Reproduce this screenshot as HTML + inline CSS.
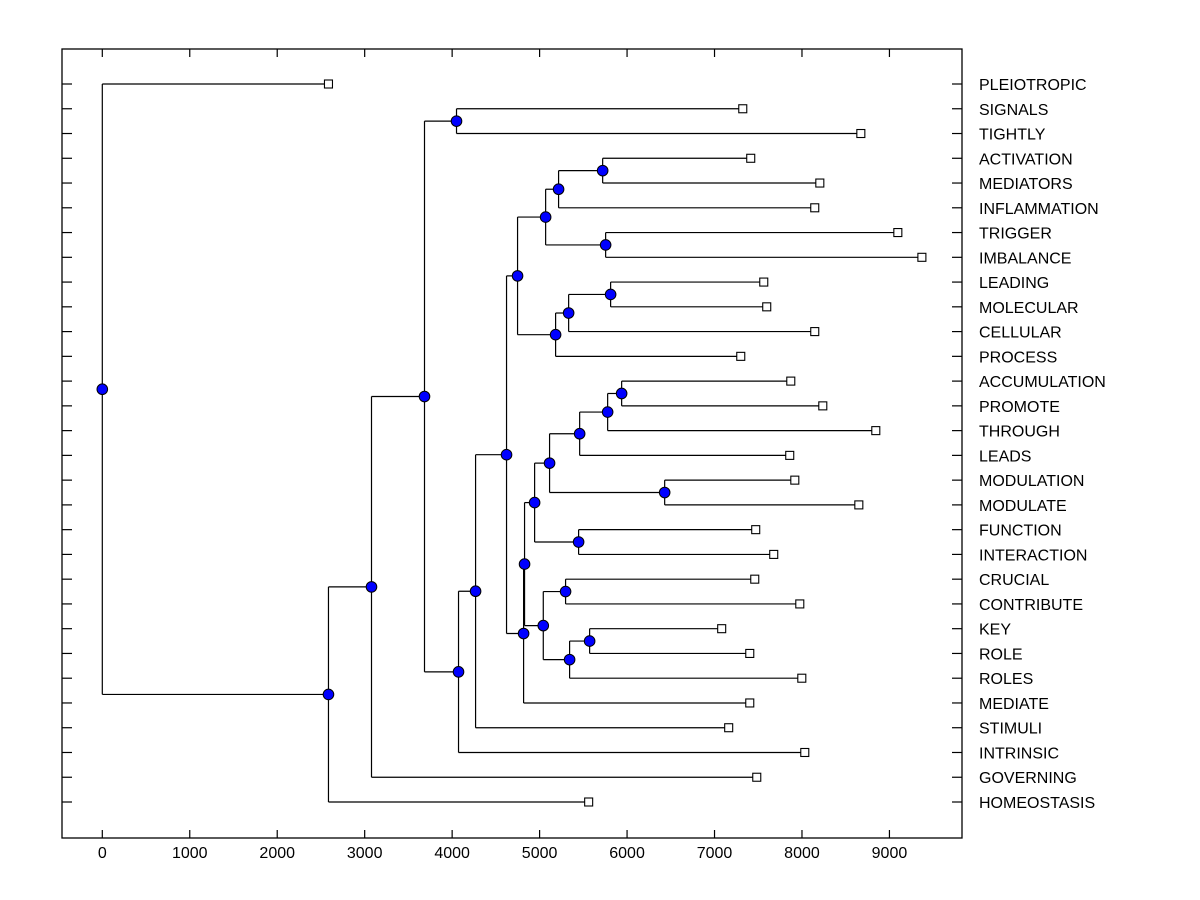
<!DOCTYPE html>
<html><head><meta charset="utf-8"><style>
body{margin:0;background:#fff}
svg{display:block}
text{font-family:"Liberation Sans",Arial,sans-serif;font-size:16px;fill:#000}
</style></head><body>
<svg id="chart" width="1200" height="900"></svg>
<script>
const leafNames=["PLEIOTROPIC","SIGNALS","TIGHTLY","ACTIVATION","MEDIATORS","INFLAMMATION","TRIGGER","IMBALANCE","LEADING","MOLECULAR","CELLULAR","PROCESS","ACCUMULATION","PROMOTE","THROUGH","LEADS","MODULATION","MODULATE","FUNCTION","INTERACTION","CRUCIAL","CONTRIBUTE","KEY","ROLE","ROLES","MEDIATE","STIMULI","INTRINSIC","GOVERNING","HOMEOSTASIS"];
const leafValues=[2586,7323,8673,7414,8204,8146,9096,9371,7563,7597,8146,7300,7872,8238,8844,7860,7918,8650,7471,7677,7460,7975,7082,7403,7998,7403,7162,8032,7483,5561];
// internal nodes: children refer to leaf names or internal node ids
const nodeIds=["root","A","B","C","D","E","F","G","H","J","L","N","M","K","O","P","I","Q","S","T","V","X","Y","U","W","R","Z","AA","AB"];
const nodeHeights=[0,2586,3078,3684,4050,4073,4268,4622,4748,5069,5217,5721,5755,5183,5332,5812,4817,4828,4943,5114,5458,5778,5938,5446,6430,5042,5297,5343,5572];
const nodeChildren=[["PLEIOTROPIC","A"],["B","HOMEOSTASIS"],["C","GOVERNING"],["D","E"],["SIGNALS","TIGHTLY"],["F","INTRINSIC"],["G","STIMULI"],["H","I"],["J","K"],["L","M"],["N","INFLAMMATION"],["ACTIVATION","MEDIATORS"],["TRIGGER","IMBALANCE"],["O","PROCESS"],["P","CELLULAR"],["LEADING","MOLECULAR"],["Q","MEDIATE"],["S","R"],["T","U"],["V","W"],["X","LEADS"],["Y","THROUGH"],["ACCUMULATION","PROMOTE"],["FUNCTION","INTERACTION"],["MODULATION","MODULATE"],["Z","AA"],["CRUCIAL","CONTRIBUTE"],["AB","ROLES"],["KEY","ROLE"]];
const xTicks=[0,1000,2000,3000,4000,5000,6000,7000,8000,9000];

const NS="http://www.w3.org/2000/svg";
const svg=document.getElementById("chart");
const L=62,R=962,T=49,B=838;
const sx=v=>102.3+v*0.08746;
const sy=i=>84+i*(802-84)/29;
function el(tag,attrs,parent){const e=document.createElementNS(NS,tag);for(const k in attrs)e.setAttribute(k,attrs[k]);(parent||svg).appendChild(e);return e;}

const frame=el("rect",{x:L,y:T,width:R-L,height:B-T,fill:"none",stroke:"#000","stroke-width":1.3});



const axisG=el("g",{});


xTicks.forEach(v=>{
  const x=sx(v);
  el("line",{x1:x,y1:B,x2:x,y2:B-8,stroke:"#000","stroke-width":1.2},axisG);
  el("line",{x1:x,y1:T,x2:x,y2:T+8,stroke:"#000","stroke-width":1.2},axisG);
  const t=el("text",{x:x,y:858,"text-anchor":"middle"},axisG);
  t.textContent=v;
  
  
});

const pos={};
leafNames.forEach((n,i)=>{pos[n]={x:sx(leafValues[i]),y:sy(i)};});
function getPos(id){
  if(pos[id])return pos[id];
  const k=nodeIds.indexOf(id);
  const ch=nodeChildren[k].map(getPos);
  pos[id]={x:sx(nodeHeights[k]),y:(ch[0].y+ch[1].y)/2};
  return pos[id];
}
nodeIds.forEach(getPos);

const linesG=el("g",{stroke:"#000","stroke-width":1.2,fill:"none"});


nodeIds.forEach((id,k)=>{
  const p=pos[id];
  const ch=nodeChildren[k].map(c=>pos[c]);
  el("line",{x1:p.x,y1:ch[0].y,x2:p.x,y2:ch[1].y},linesG);
  ch.forEach(c=>el("line",{x1:p.x,y1:c.y,x2:c.x,y2:c.y},linesG));
});

leafNames.forEach((n,i)=>{
  const y=sy(i);
  const tk=el("g",{stroke:"#000","stroke-width":1.2});
  
  
  el("line",{x1:L,y1:y,x2:L+10,y2:y},tk);
  el("line",{x1:R-10,y1:y,x2:R,y2:y},tk);
  const p=pos[n];
  const sq=el("rect",{x:p.x-4,y:y-4,width:8,height:8,fill:"#fff",stroke:"#000","stroke-width":1.1});
  
  
  const t=el("text",{x:979,y:y+6});
  t.textContent=n;
  
  
});

nodeIds.forEach(id=>{
  const p=pos[id];
  const c=el("circle",{cx:p.x,cy:p.y,r:5.3,fill:"#0000ff",stroke:"#000","stroke-width":1});
  
  
});
</script>
</body></html>
